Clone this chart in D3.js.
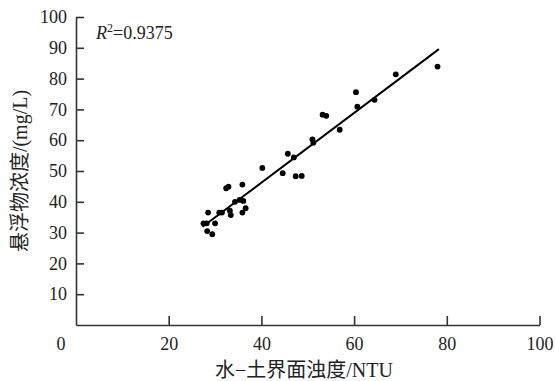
<!DOCTYPE html>
<html>
<head>
<meta charset="utf-8">
<script src="https://cdn.jsdelivr.net/npm/d3@7/dist/d3.min.js"></script>
<style>
  html, body { margin: 0; padding: 0; background: #fff; }
  svg { display: block; }
  .tick text { font-family: "Liberation Serif", "Times New Roman", serif; font-size: 18px; fill: #222; }
</style>
</head>
<body>
<script>
// Turbidity at the water–soil interface (NTU) vs suspended solids (mg/L)
const turbidity = [27.5, 28.2, 28.3, 29.4, 28.5, 30.0, 30.9, 31.5, 32.4, 32.9,
                   33.2, 33.4, 34.3, 35.3, 36.1, 35.9, 36.6, 35.9, 40.2, 44.6,
                   45.7, 47.0, 47.4, 48.7, 51.0, 51.2, 53.2, 54.0, 56.9, 60.4,
                   60.7, 64.4, 69.0, 78.0];
const suspended = [33.0, 33.0, 30.5, 29.5, 36.5, 33.0, 36.5, 36.5, 44.4, 44.9,
                   37.1, 35.7, 40.0, 40.6, 40.3, 45.6, 37.9, 36.5, 51.0, 49.3,
                   55.6, 54.4, 48.3, 48.4, 60.3, 59.2, 68.3, 67.9, 63.4, 75.6,
                   70.9, 73.1, 81.4, 83.9];
const xTicks = [20, 40, 60, 80, 100];
const yTicks = [10, 20, 30, 40, 50, 60, 70, 80, 90, 100];
// Linear fit y = a·x + b over the observed range
const fitSlope = 1.131;
const fitIntercept = 1.0;
const fitRange = [27.3, 78.3];
const r2Label = "0.9375";

const W = 555, H = 381;
const svg = d3.select("body").append("svg").attr("width", W).attr("height", H);

const x = d3.scaleLinear().domain([0, 100]).range([76, 539.5]);
const y = d3.scaleLinear().domain([0, 100]).range([325, 17]);

const axisColor = "#333";

// x axis, ticks pointing up into the plot
const gx = svg.append("g").attr("transform", `translate(0,${y(0)})`)
  .call(d3.axisTop(x).tickValues(xTicks).tickSize(9).tickSizeOuter(0).tickFormat(d3.format("d")));
gx.select(".domain").attr("stroke", axisColor).attr("stroke-width", 1.6);
gx.selectAll(".tick line").attr("stroke", axisColor).attr("stroke-width", 1.6);
gx.selectAll(".tick text").attr("y", 12).attr("dy", "0.71em");

// y axis, ticks pointing right into the plot
const gy = svg.append("g").attr("transform", `translate(${x(0)},0)`)
  .call(d3.axisRight(y).tickValues(yTicks).tickSize(8).tickSizeOuter(0).tickFormat(d3.format("d")));
gy.select(".domain").attr("stroke", axisColor).attr("stroke-width", 1.6);
gy.selectAll(".tick line").attr("stroke", axisColor).attr("stroke-width", 1.6);
gy.selectAll(".tick text").attr("x", -9).attr("text-anchor", "end");

// shared origin label
svg.append("text")
  .attr("x", x(0) - 15).attr("y", y(0) + 12).attr("dy", "0.71em")
  .attr("text-anchor", "middle")
  .style("font-family", "'Liberation Serif', serif").style("font-size", "18px").attr("fill", "#222")
  .text("0");

// scatter points
svg.append("g").selectAll("circle")
  .data(turbidity.map((t, i) => [t, suspended[i]]))
  .join("circle")
  .attr("cx", d => x(d[0])).attr("cy", d => y(d[1]))
  .attr("r", 2.9).attr("fill", "#000");

// regression line
svg.append("line")
  .attr("x1", x(fitRange[0])).attr("y1", y(fitSlope * fitRange[0] + fitIntercept))
  .attr("x2", x(fitRange[1])).attr("y2", y(fitSlope * fitRange[1] + fitIntercept))
  .attr("stroke", "#000").attr("stroke-width", 2);

// R² annotation
const r2 = svg.append("text").attr("x", 96).attr("y", 39)
  .style("font-family", "'Liberation Serif', serif").style("font-size", "18px").attr("fill", "#222");
r2.append("tspan").style("font-style", "italic").text("R");
r2.append("tspan").attr("dy", -7).style("font-size", "12px").text("2");
r2.append("tspan").attr("dy", 7).text("=" + r2Label);

// axis titles
const titleFont = "'Liberation Serif', 'Noto Sans CJK SC', serif";
svg.append("text")
  .attr("x", 304).attr("y", 377)
  .attr("text-anchor", "middle")
  .style("font-family", titleFont).style("font-size", "20px").attr("fill", "#222")
  .text("水−土界面浊度/NTU");

svg.append("text")
  .attr("transform", "translate(27,171) rotate(-90)")
  .attr("text-anchor", "middle")
  .style("font-family", titleFont).style("font-size", "20px").attr("fill", "#222")
  .text("悬浮物浓度/(mg/L)");
</script>
</body>
</html>
